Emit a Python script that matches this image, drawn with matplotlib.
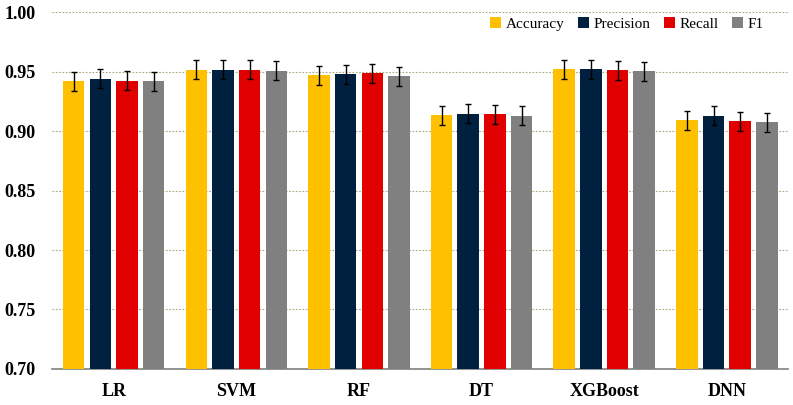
import numpy as np
import matplotlib.pyplot as plt

models = ["LR", "SVM", "RF", "DT", "XGBoost", "DNN"]
metrics = ["Accuracy", "Precision", "Recall", "F1"]
accuracy = [0.942, 0.9515, 0.947, 0.9135, 0.9518, 0.909]
precision = [0.944, 0.9515, 0.9476, 0.9145, 0.952, 0.913]
recall = [0.9425, 0.9515, 0.9485, 0.9143, 0.951, 0.9083]
f1 = [0.9418, 0.9507, 0.9462, 0.9129, 0.9504, 0.9076]
errors = [0.008, 0.008, 0.008, 0.008]
colors = ["#FFC000", "#002040", "#E00000", "#808080"]

plt.rcParams['font.family'] = ['Liberation Serif', 'DejaVu Serif']

fig, ax = plt.subplots(figsize=(7.93, 4.05), dpi=100)
fig.subplots_adjust(left=0.066, right=0.994, top=0.97, bottom=0.089)

x = np.arange(len(models))
step = 0.2175
width = 0.176
for i, (name, vals) in enumerate(zip(metrics, [accuracy, precision, recall, f1])):
    ax.bar(x + (i - 1.5) * step, vals, width, color=colors[i], label=name,
           yerr=errors[i], error_kw=dict(ecolor='black', elinewidth=1, capsize=2.5, capthick=1),
           zorder=3)

ax.set_ylim(0.70, 1.00)
ax.set_xlim(-0.5, len(models) - 0.5)
ax.set_yticks(np.arange(0.70, 1.001, 0.05))
ax.set_yticklabels([f"{v:.2f}" for v in np.arange(0.70, 1.001, 0.05)],
                   fontsize=13, fontweight='bold')
ax.set_xticks(x)
ax.set_xticklabels(models, fontsize=13, fontweight='bold')
ax.tick_params(axis='x', length=0, pad=10)
ax.tick_params(axis='y', length=0, pad=12)

ax.grid(axis='y', color='#A8A878', linestyle=(0, (1.5, 1.5)), linewidth=0.8, zorder=0)
for s in ['top', 'right', 'left']:
    ax.spines[s].set_visible(False)
ax.spines['bottom'].set_color('#808080')
ax.spines['bottom'].set_linewidth(1.2)

ax.legend(loc='upper right', ncol=4, frameon=False, fontsize=11,
          handlelength=0.7, handleheight=0.7, handletextpad=0.3,
          columnspacing=0.9, bbox_to_anchor=(0.985, 1.025))

plt.savefig("out.png", dpi=100)
